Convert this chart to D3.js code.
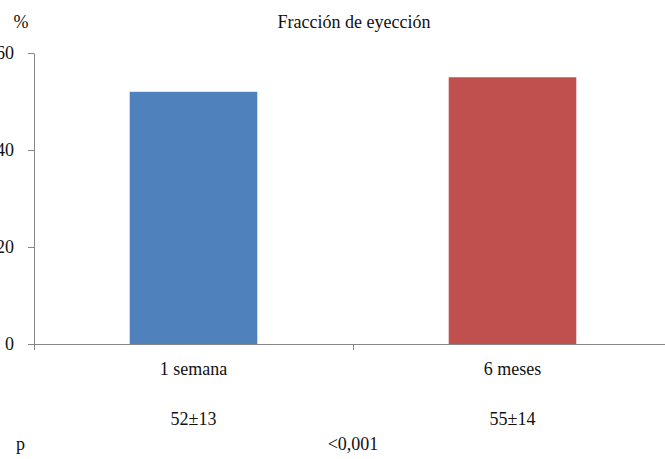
<!DOCTYPE html>
<html>
<head>
<meta charset="utf-8">
<script src="https://cdn.jsdelivr.net/npm/d3@7"></script>
<style>
  html, body { margin: 0; padding: 0; background: #fff; }
  svg text { font-family: "Liberation Serif", "DejaVu Serif", serif; fill: #111; }
</style>
</head>
<body>
<svg id="chart" width="665" height="459"></svg>
<script>
// Ejection fraction at each follow-up time
const categories = ["1 semana", "6 meses"];
const values = [52, 55];
const valueLabels = ["52±13", "55±14"];
const barColors = ["#4F81BD", "#C0504D"];
const yTicks = [0, 20, 40, 60];
const pLabel = "p";
const pValue = "<0,001";
const title = "Fracción de eyección";
const unitLabel = "%";

const svg = d3.select("#chart");
const axisColor = "#868686";
const fontSize = 18;

const plotLeft = 34, plotRight = 672, plotTop = 53, plotBottom = 344;

const y = d3.scaleLinear().domain([0, 60]).range([plotBottom, plotTop]);
const x = d3.scaleBand().domain(categories).range([plotLeft, plotRight])
  .paddingInner(0.6).paddingOuter(0.3);
// boundaries between categories, for the x-axis tick marks
const xEdge = d3.scaleLinear().domain([0, categories.length]).range([plotLeft, plotRight]);

// bars
svg.append("g").selectAll("rect").data(values).join("rect")
  .attr("x", (d, i) => x(categories[i]))
  .attr("y", d => y(d))
  .attr("width", x.bandwidth())
  .attr("height", d => y(0) - y(d))
  .attr("fill", (d, i) => barColors[i]);

// y axis
const yAxis = svg.append("g").attr("transform", `translate(${plotLeft},0)`)
  .call(d3.axisLeft(y).tickValues(yTicks).tickSize(6).tickSizeOuter(0).tickPadding(14));
yAxis.selectAll("text").style("font-size", fontSize + "px").attr("dy", "0.32em");

// x axis with ticks at category boundaries
const xAxis = svg.append("g").attr("transform", `translate(0,${plotBottom})`)
  .call(d3.axisBottom(xEdge).tickValues(d3.range(categories.length + 1))
    .tickFormat("").tickSize(6).tickSizeOuter(0));
xAxis.select(".domain").attr("d", `M${plotLeft - 6},0.5H${plotRight}`);

[yAxis, xAxis].forEach(g => {
  g.select(".domain").attr("stroke", axisColor);
  g.selectAll(".tick line").attr("stroke", axisColor);
});

// category labels
svg.append("g").selectAll("text").data(categories).join("text")
  .attr("x", d => x(d) + x.bandwidth() / 2)
  .attr("y", 375)
  .attr("text-anchor", "middle")
  .style("font-size", fontSize + "px")
  .text(d => d);

// mean ± SD labels
svg.append("g").selectAll("text").data(valueLabels).join("text")
  .attr("x", (d, i) => x(categories[i]) + x.bandwidth() / 2)
  .attr("y", 425)
  .attr("text-anchor", "middle")
  .style("font-size", fontSize + "px")
  .text(d => d);

// p value row
svg.append("text").attr("x", 16).attr("y", 450)
  .style("font-size", fontSize + "px").text(pLabel);
svg.append("text").attr("x", xEdge(1)).attr("y", 450).attr("text-anchor", "middle")
  .style("font-size", fontSize + "px").text(pValue);

// title and unit
svg.append("text").attr("x", 354).attr("y", 28).attr("text-anchor", "middle")
  .style("font-size", fontSize + "px").text(title);
svg.append("text").attr("x", 21).attr("y", 28).attr("text-anchor", "middle")
  .style("font-size", fontSize + "px").text(unitLabel);
</script>
</body>
</html>
